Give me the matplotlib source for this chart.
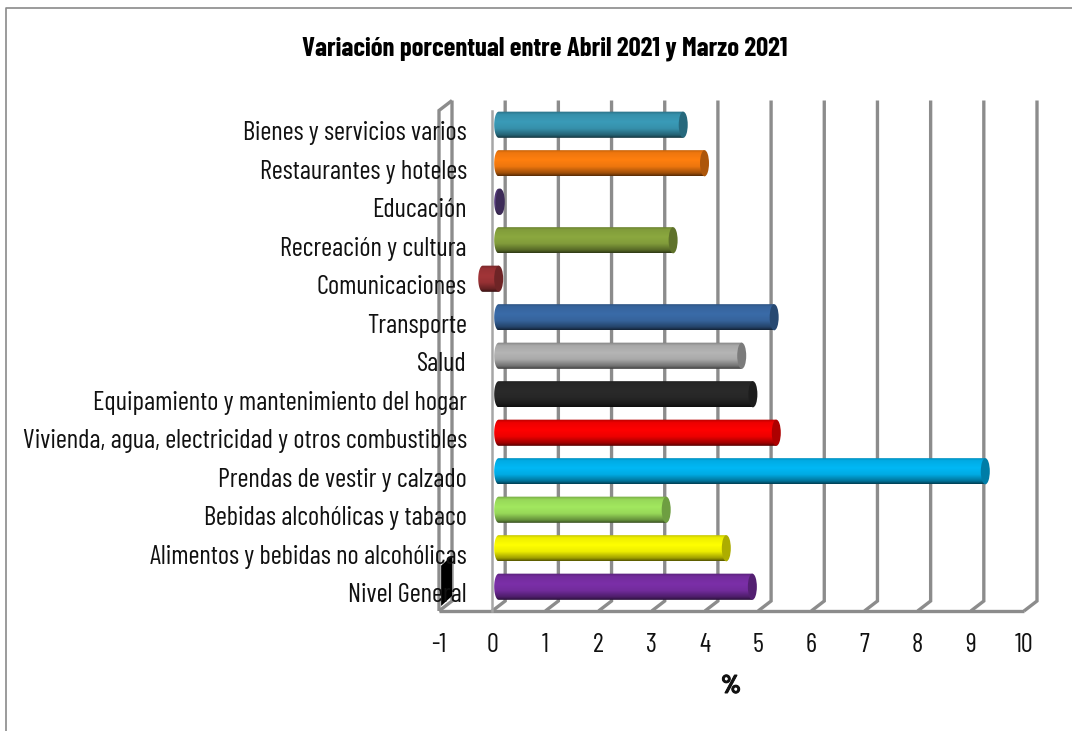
import numpy as np
import matplotlib
matplotlib.use("Agg")
import matplotlib.pyplot as plt
import matplotlib.patheffects as pe
from matplotlib.colors import to_rgb
from matplotlib.patches import Polygon, Ellipse
from matplotlib.lines import Line2D
from matplotlib import font_manager as fm

categories = ["Nivel General", "Alimentos y bebidas no alcohólicas", "Bebidas alcohólicas y tabaco",
              "Prendas de vestir y calzado", "Vivienda, agua, electricidad y otros combustibles",
              "Equipamiento y mantenimiento del hogar", "Salud", "Transporte", "Comunicaciones",
              "Recreación y cultura", "Educación", "Restaurantes y hoteles", "Bienes y servicios varios"]
values = [4.77, 4.28, 3.15, 9.15, 5.22, 4.78, 4.57, 5.18, -0.3, 3.28, 0.03, 3.87, 3.47]
colors = ["#7B2FA8", "#FFFF00", "#A2E85F", "#00B8F5", "#FF0000", "#2A2A2A", "#B5B5B5", "#3A6BA8",
          "#A23538", "#8BA83F", "#5A3F82", "#FF7F0F", "#3A9BB8"]
xticks = list(range(-1, 11))
title = "Variación porcentual entre Abril 2021 y Marzo 2021"
xlabel = "%"

W, H = 1072, 731
have = {f.name for f in fm.fontManager.ttflist}
fam = [n for n in ['Barlow Condensed', 'Sofia Sans Condensed', 'Archivo Narrow', 'DejaVu Sans'] if n in have]
plt.rcParams['font.family'] = fam
fig = plt.figure(figsize=(W/100, H/100), dpi=100)
fig.patch.set_facecolor("white")

L, R, B, T = 439, 1024, 611, 110.5
ax = fig.add_axes([L/W, 1-B/H, (R-L)/W, (B-T)/H])
ax.set_xlim(-1, 10)
ax.set_ylim(-0.5, 12.5)
ax.axis("off")
ax.patch.set_alpha(0)
ux = (R-L)/11
uy = (B-T)/13
dx, dy = 13/ux, 10/uy

grid = dict(color="#8C8C8C", lw=2.4, solid_capstyle="butt", solid_joinstyle="miter", clip_on=False, zorder=1)
for t in xticks:
    ax.plot([t, t+dx, t+dx], [-0.5, -0.5+dy, 12.5+dy], **grid)
ax.plot([-1, 10], [-0.5, -0.5], **grid)
ax.plot([-1, -1, -1+dx], [-0.5, 12.5, 12.5+dy], **grid)
ax.plot([0, 0], [-0.5, 12.5], color="#A6A6A6", lw=1.8, clip_on=False, zorder=1)

ax.add_patch(Polygon([(-1+0.04, -0.37), (-1+dx, -0.37+dy), (-1+dx, 0.68+dy), (-1+0.04, 0.68)],
                     closed=True, fc="black", ec="none", zorder=2, clip_on=False))

bar_h = 0.68
cap_w = 4.5/ux
x_mid, y_off = dx/2, dy/2

for i, (v, c) in enumerate(zip(values, colors)):
    x0, x1 = sorted((x_mid, x_mid+v))
    yc = i + y_off
    y0, y1 = yc-bar_h/2, yc+bar_h/2
    t = np.linspace(0, 1, 40)
    prof = np.interp(t, [0, 0.1, 0.35, 0.6, 0.88, 1], [0.35, 0.62, 0.93, 1.0, 0.93, 0.72])
    rgb = np.array(to_rgb(c))
    img = np.clip(rgb[None, None, :]*prof[:, None, None], 0, 1)
    im = ax.imshow(img, extent=[x0-cap_w, x1, y0, y1], origin="lower", aspect="auto", zorder=3,
                   interpolation="bilinear")
    th = np.linspace(np.pi/2, 3*np.pi/2, 30)
    left = np.c_[x0+cap_w*np.cos(th), yc+bar_h/2*np.sin(th)]
    poly = np.vstack([left, [[x1, y0], [x1, y1]]])
    clip = Polygon(poly, closed=True, transform=ax.transData, fc="none", ec="none")
    ax.add_patch(clip)
    im.set_clip_path(clip)
    ax.add_patch(Ellipse((x1, yc), 2*cap_w, bar_h, fc=tuple(rgb*0.68), ec="none", zorder=4))

ax.set_xlim(-1, 10)
ax.set_ylim(-0.5, 12.5)

fs = 19.2
for i, name in enumerate(categories):
    ax.annotate(name, xy=(-1, i), xycoords="data", xytext=(28, -10.5), textcoords="offset pixels",
                ha="right", va="baseline", fontsize=fs, color="#111111", zorder=6, annotation_clip=False)
for t in xticks:
    ax.annotate(str(t), xy=(t, -0.5), xycoords="data", xytext=(0, -41.5), textcoords="offset pixels",
                ha="center", va="baseline", fontsize=fs, color="#111111", annotation_clip=False)

tx = fig.text(731/W, 1-693/H, xlabel, ha="center", va="baseline", fontsize=18.5, fontweight="bold", color="#111111")
tx.set_path_effects([pe.withStroke(linewidth=0.7, foreground="#111111")])
fig.text(545/W, 1-49/H, title, ha="center", va="center", fontsize=19.2, fontweight="bold", color="black")

fx = [5.5, 5.5, 1072]
fy = [731, 8, 8]
fig.add_artist(Line2D([x/W for x in fx], [1-y/H for y in fy], color="#8A8A8A", lw=1.2, zorder=0))

fig.savefig("out.png", dpi=100)
